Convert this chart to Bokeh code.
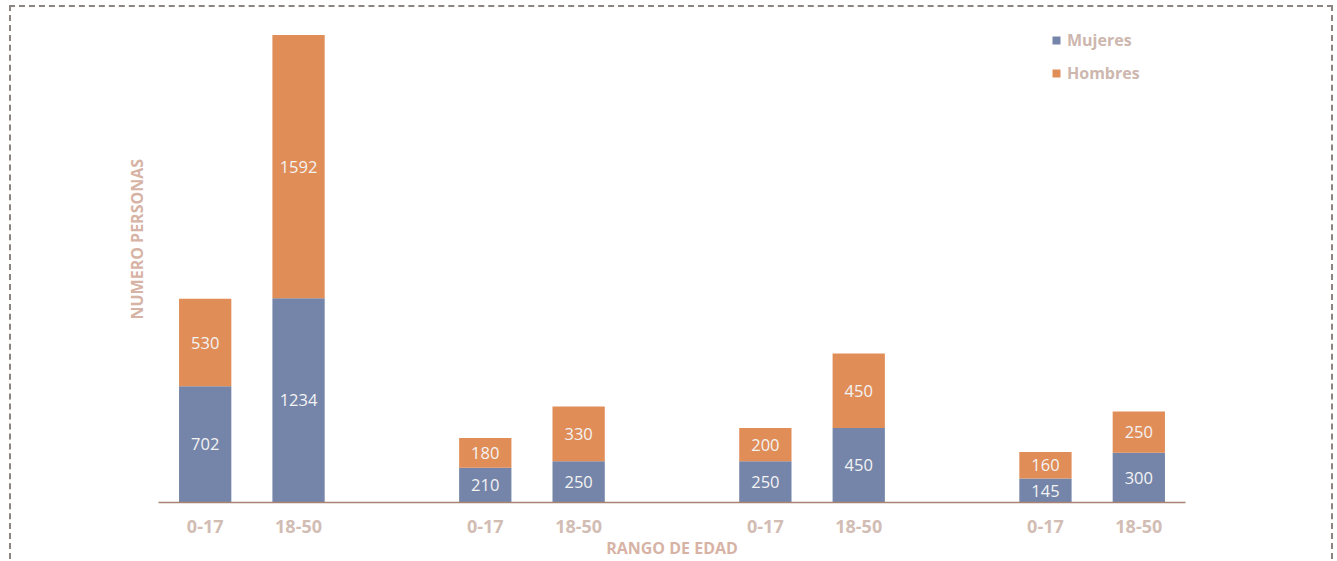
from bokeh.plotting import figure
from bokeh.models import ColumnDataSource, FixedTicker, Legend, LegendItem, Range1d, Title
from bokeh.core.properties import value
from bokeh.embed import file_html
from bokeh.resources import INLINE

# ---- data ----
age_ranges = ["0-17", "18-50", "0-17", "18-50", "0-17", "18-50", "0-17", "18-50"]
positions = [0, 1, 3, 4, 6, 7, 9, 10]
mujeres = [702, 1234, 210, 250, 250, 450, 145, 300]
hombres = [530, 1592, 180, 330, 200, 450, 160, 250]
series_names = ["Mujeres", "Hombres"]
series_colors = ["#7585a9", "#e08d58"]

FONT = "Open Sans"
BORDER = "2px dashed #8c8480"

src = ColumnDataSource(dict(
    x=positions,
    Mujeres=mujeres,
    Hombres=hombres,
    muj_mid=[m / 2 for m in mujeres],
    hom_mid=[m + h / 2 for m, h in zip(mujeres, hombres)],
    muj_txt=[str(v) for v in mujeres],
    hom_txt=[str(v) for v in hombres],
))

p = figure(width=1324, height=554, output_backend="svg", toolbar_location=None,
           x_range=Range1d(-0.5, 10.5), y_range=Range1d(0, 2992),
           min_border_left=147, min_border_right=150, min_border_top=0, min_border_bottom=58,
           styles={"border-top": BORDER, "border-left": BORDER, "border-right": BORDER,
                   "margin-left": "9px", "margin-top": "5px"})
p.outline_line_color = None
p.grid.visible = False
p.background_fill_color = "white"
p.border_fill_color = "white"

rs = p.vbar_stack(series_names, x="x", width=0.56, color=series_colors, source=src,
                  line_color=None)

p.text(x="x", y="muj_mid", text="muj_txt", source=src, text_align="center",
       text_baseline="middle", text_color="#f3f3f3", text_font_size="16.5px",
       text_font=value(FONT))
p.text(x="x", y="hom_mid", text="hom_txt", source=src, text_align="center",
       text_baseline="middle", text_color="#f3f3f3", text_font_size="16.5px",
       text_font=value(FONT))

# x axis
xa = p.xaxis[0]
xa.ticker = FixedTicker(ticks=positions)
xa.major_label_overrides = {pos: lab for pos, lab in zip(positions, age_ranges)}
xa.major_tick_line_color = None
xa.minor_tick_line_color = None
xa.axis_line_color = "#a88272"
xa.axis_line_width = 1.5
xa.major_label_text_color = "#d2bdb4"
xa.major_label_text_font = FONT
xa.major_label_text_font_size = "18px"
xa.major_label_text_font_style = "bold"
xa.major_label_standoff = 11
xa.axis_label = "RANGO DE EDAD"
xa.axis_label_text_color = "#d7b3a5"
xa.axis_label_text_font = FONT
xa.axis_label_text_font_size = "16px"
xa.axis_label_text_font_style = "bold"
xa.axis_label_standoff = 1

p.yaxis.visible = False

ytitle = Title(text="NUMERO PERSONAS", align="left", offset=183,
               text_color="#d7b3a5", text_font=FONT, text_font_size="16px",
               text_font_style="bold")
if "standoff" in ytitle.properties():
    ytitle.standoff = 22
p.add_layout(ytitle, "left")

legend = Legend(items=[LegendItem(label=n, renderers=[r]) for n, r in zip(series_names, rs)],
                location=(893, 418), orientation="vertical",
                glyph_width=10, glyph_height=10, label_standoff=6, spacing=11,
                padding=0, margin=0, border_line_color=None, background_fill_alpha=0,
                label_text_font=FONT, label_text_font_size="16px",
                label_text_font_style="bold", label_text_color="#cdb7ae")
p.add_layout(legend)

open("out.html", "w").write(file_html(p, INLINE))
